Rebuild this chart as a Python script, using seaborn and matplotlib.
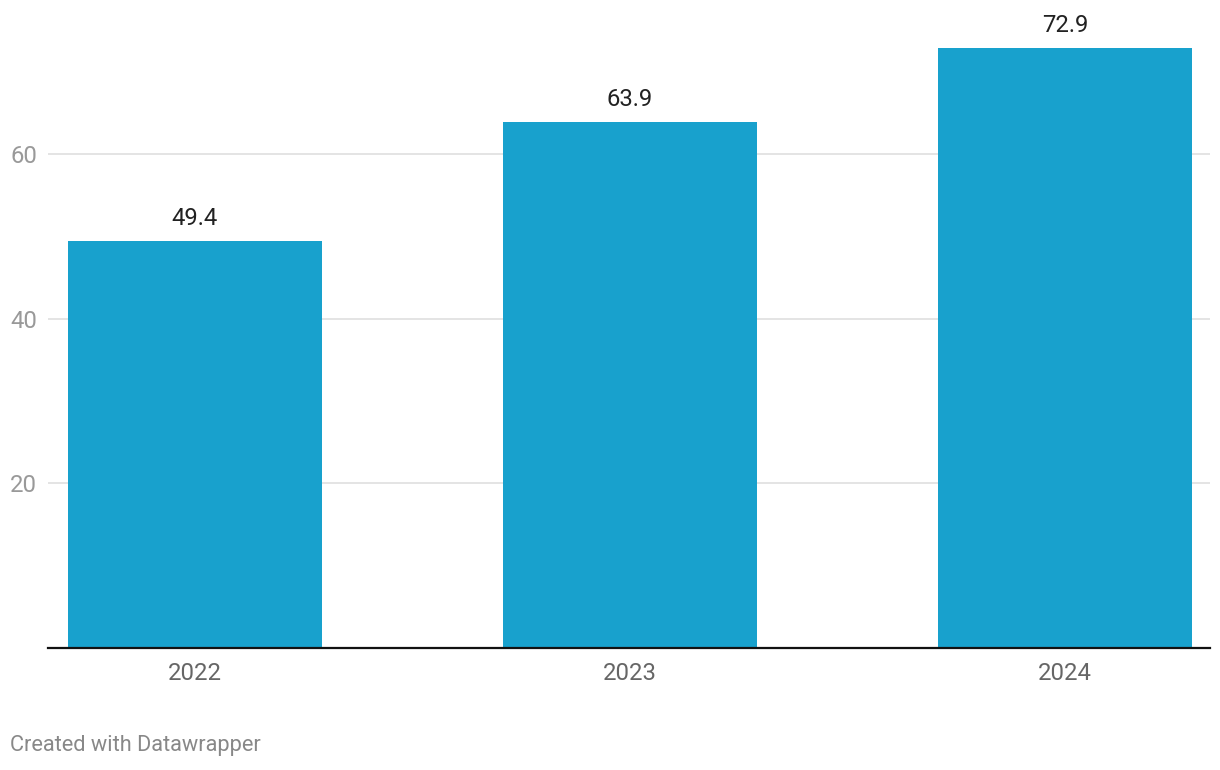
import matplotlib
matplotlib.use("Agg")
import matplotlib.pyplot as plt
import seaborn as sns
import pandas as pd

years = ["2022", "2023", "2024"]
values = [49.4, 63.9, 72.9]
yticks = [20, 40, 60]

sns.set_theme(style="white")
plt.rcParams['font.family'] = ['Roboto', 'DejaVu Sans']

df = pd.DataFrame({"year": years, "value": values})

fig = plt.figure(figsize=(12.2, 7.7), dpi=100)
ax = fig.add_axes([48/1220, 122/770, (1210-48)/1220, 648/770])

sns.barplot(data=df, x="year", y="value", color="#18a1cd", width=0.584,
            saturation=1, ax=ax, zorder=3, linewidth=0)

ax.set_xlim(-0.337, 2.333)
ax.set_ylim(0, 78.7)
ax.set_yticks(yticks)
ax.set_yticklabels([str(t) for t in yticks])
ax.grid(axis="y", color="#e2e2e2", linewidth=1.3, zorder=0)
ax.set_axisbelow(True)
for s in ["top", "right", "left"]:
    ax.spines[s].set_visible(False)
ax.spines["bottom"].set_color("#111111")
ax.spines["bottom"].set_linewidth(1.6)
ax.spines["bottom"].set_zorder(5)
ax.set_xlabel("")
ax.set_ylabel("")
ax.tick_params(axis="y", length=0, pad=8, labelsize=17.2, labelcolor="#999999")
ax.tick_params(axis="x", length=0, pad=10, labelsize=17.2, labelcolor="#666666")

for i, v in enumerate(values):
    ax.annotate(f"{v:.1f}", xy=(i, v), xytext=(0, 8), textcoords="offset points",
                ha="center", va="bottom", fontsize=17.2, color="#222222")

fig.text(10/1220, 1 - 746/770, "Created with Datawrapper", ha="left", va="center",
         fontsize=15.7, color="#888888")

fig.savefig("out.png", dpi=100)
